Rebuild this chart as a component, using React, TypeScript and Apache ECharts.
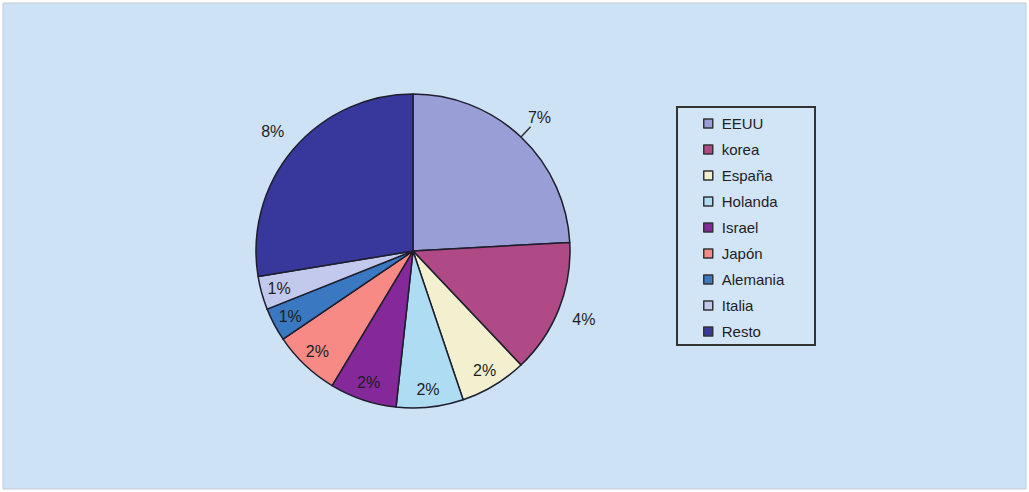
import React, { useEffect, useRef } from "react";
import * as echarts from "echarts";

const countries = ["EEUU", "korea", "España", "Holanda", "Israel", "Japón", "Alemania", "Italia", "Resto"];
const values = [7, 4, 2, 2, 2, 2, 1, 1, 8];
const sliceColors = ["#9a9ed6", "#b04a86", "#f2f0cf", "#aedcf2", "#85289a", "#f78a84", "#3a78c2", "#c2c9ec", "#38389c"];
const outsideLabelNames = ["EEUU", "korea", "Resto"];

const CENTER = [413, 251];
const R = 157;

export default function App() {
  const ref = useRef<HTMLDivElement>(null);
  useEffect(() => {
    document.body.style.margin = "0";
    const chart = echarts.init(ref.current!, null, { renderer: "svg" });
    const font = "Liberation Sans, Arial, sans-serif";
    const mainData = countries.map((n, i) => {
      const item: any = { name: n, value: values[i], itemStyle: { color: sliceColors[i] } };
      if (n === "EEUU") {
        item.label = { show: true, position: "outside", formatter: " ", fontSize: 1 };
        item.labelLine = { show: true, length: 14, length2: 0, lineStyle: { color: "#333", width: 1.5 } };
      }
      return item;
    });
    const labelData = (outer: boolean) =>
      countries.map((n, i) => ({
        name: n,
        value: values[i],
        label: { show: outsideLabelNames.includes(n) === outer },
      }));
    const labelStyle = {
      position: "inside",
      formatter: "{c}%",
      color: "#1e1e1e",
      fontSize: 16,
      fontFamily: font,
    };
    const option: any = {
      animation: false,
      backgroundColor: "#ffffff",
      graphic: [
        {
          type: "rect",
          shape: { x: 3, y: 3, width: 1023, height: 486 },
          style: { fill: "#cde2f5", stroke: "#c4ccd4", lineWidth: 1 },
          z: -10,
        },
        {
          type: "rect",
          shape: { x: 677, y: 107, width: 138, height: 238 },
          style: { fill: "#d2e5f6", stroke: "#333", lineWidth: 2 },
          z: -5,
        },
      ],
      legend: {
        orient: "vertical",
        left: 703,
        top: 116,
        padding: 0,
        itemGap: 11,
        itemWidth: 9,
        itemHeight: 9,
        icon: "rect",
        selectedMode: false,
        data: countries,
        itemStyle: { borderColor: "#333", borderWidth: 1.5 },
        textStyle: { fontSize: 15, lineHeight: 14, color: "#222", fontFamily: font, padding: [0, 0, 0, 4] },
      },
      series: [
        {
          type: "pie",
          center: CENTER,
          radius: R,
          startAngle: 90,
          clockwise: true,
          avoidLabelOverlap: false,
          silent: true,
          itemStyle: { borderColor: "#1e1e2e", borderWidth: 1.5 },
          label: { show: false },
          labelLine: { show: false },
          data: mainData,
          z: 2,
        },
        {
          type: "pie",
          center: CENTER,
          radius: [115, R],
          startAngle: 90,
          clockwise: true,
          silent: true,
          avoidLabelOverlap: false,
          itemStyle: { color: "transparent", borderWidth: 0 },
          label: labelStyle,
          labelLine: { show: false },
          data: labelData(false),
          z: 3,
        },
        {
          type: "pie",
          center: CENTER,
          radius: [168, 194],
          startAngle: 90,
          clockwise: true,
          silent: true,
          avoidLabelOverlap: false,
          itemStyle: { color: "transparent", borderWidth: 0 },
          label: labelStyle,
          labelLine: { show: false },
          data: labelData(true),
          z: 3,
        },
      ],
    };
    chart.setOption(option);
    return () => chart.dispose();
  }, []);
  return <div ref={ref} style={{ width: 1029, height: 492 }} />;
}
